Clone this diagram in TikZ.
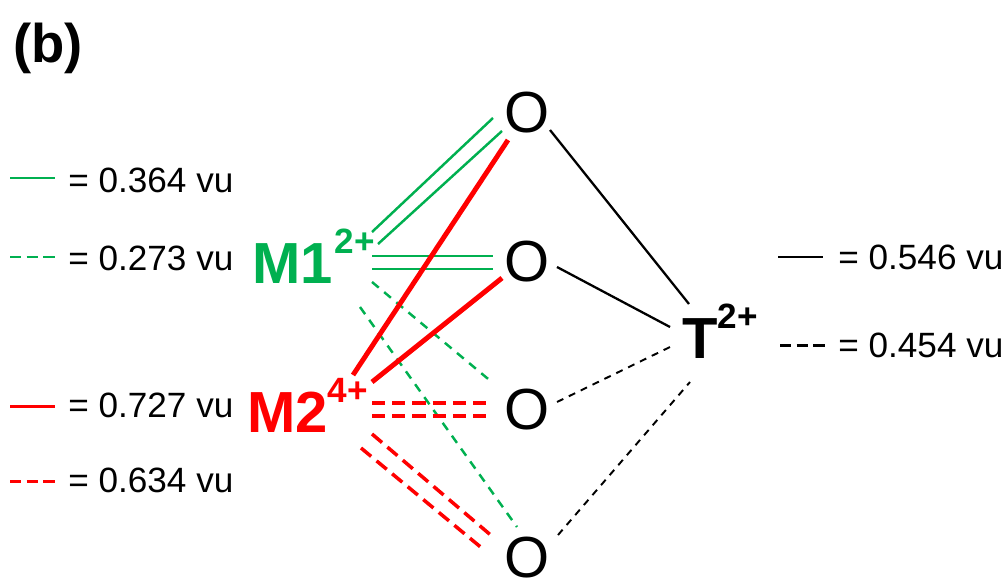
\documentclass[tikz,border=0pt]{standalone}
\usepackage{fontspec}
\setmainfont{Liberation Sans}
\usetikzlibrary{calc}
\definecolor{BVGreen}{RGB}{0,176,80}
\definecolor{BVRed}{RGB}{255,0,0}
\newcommand{\chg}[1]{\raisebox{17pt}{\fontsize{20}{20}\selectfont\bfseries #1}}

\begin{document}
\begin{tikzpicture}[x=0.02cm, y=-0.02cm,
          ion/.style={inner sep=0pt, anchor=base west,
                      font=\fontsize{33}{33}\selectfont\bfseries},
          oxy/.style={inner sep=0pt, font=\fontsize{33}{33}\selectfont},
          leg/.style={inner sep=0pt, anchor=west,
                      font=\fontsize{20}{20}\selectfont},
          gbond/.style={BVGreen, line width=1.4pt},
          gdash/.style={gbond, dash pattern=on 5pt off 4pt},
          rbond/.style={BVRed, line width=2.8pt},
          rdash/.style={BVRed, line width=2pt, dash pattern=on 7.5pt off 4pt},
          kbond/.style={black, line width=1.3pt},
          kdash/.style={black, line width=1.1pt, dash pattern=on 4pt off 3.5pt},
          legline/.style={line width=1.7pt},
          legdash/.style={line width=1.7pt, dash pattern=on 6.5pt off 3pt}
        ]
        \useasboundingbox (0,0) rectangle (1006,578);

        \node[ion, font=\fontsize{31}{31}\selectfont\bfseries] (panel) at (13,62) {(b)};

        % cations and anions
        \node[ion, BVGreen] (M1) at (252,283) {M1\kern1pt\chg{2+}};
        \node[ion, BVRed] (M2) at (247,432) {M2\chg{4+}};
        \node[ion] (T) at (682,358) {T\chg{2+}};
        \foreach \k/\y in {1/113, 2/262, 3/410, 4/558} {
          \node[oxy] (O\k) at (527,\y) {O};
        }

        % M1 bonds
        \draw[gbond] ($(M1.base west)+(120,-51)$) -- ($(O1)+(-34,5)$);
        \draw[gbond] ($(M1.base west)+(126,-39)$) -- ($(O1)+(-25,18)$);
        \draw[gbond] ($(M1.base west)+(120,-27)$) -- ($(O2)+(-34,-6)$);
        \draw[gbond] ($(M1.base west)+(120,-14)$) -- ($(O2)+(-34,7)$);
        \draw[gdash] ($(M1.base west)+(120,-1)$) -- ($(O3)+(-34,-27)$);
        \draw[gdash] ($(M1.base west)+(108,24)$) -- ($(O4)+(-10,-31)$);

        % M2 bonds
        \draw[rbond] ($(M2.base west)+(106,-57)$) -- ($(O1)+(-19,27)$);
        \draw[rbond] ($(M2.base west)+(125,-50)$) -- ($(O2)+(-25,16)$);
        \draw[rdash] ($(M2.base west)+(125,-29)$) -- ($(O3)+(-34,-7)$);
        \draw[rdash] ($(M2.base west)+(125,-16)$) -- ($(O3)+(-34,6)$);
        \draw[rdash] ($(M2.base west)+(125,2)$) -- ($(O4)+(-34,-21)$);
        \draw[rdash] ($(M2.base west)+(114,16)$) -- ($(O4)+(-44,-9)$);

        % T bonds
        \draw[kbond] ($(O1)+(23,17)$) -- ($(T.base west)+(7,-54)$);
        \draw[kbond] ($(O2)+(30,5)$) -- ($(T.base west)+(-12,-31)$);
        \draw[kdash] ($(O3)+(30,-8)$) -- ($(T.base west)+(-12,-11)$);
        \draw[kdash] ($(O4)+(31,-23)$) -- ($(T.base west)+(8,24)$);

        % legends
        \node[leg] (l364) at (68,180) {= 0.364 vu};
        \node[leg] (l273) at (68,258) {= 0.273 vu};
        \node[leg] (l727) at (68,405) {= 0.727 vu};
        \node[leg] (l634) at (68,480) {= 0.634 vu};
        \node[leg] (l546) at (838,257) {= 0.546 vu};
        \node[leg] (l454) at (838,345) {= 0.454 vu};
        \draw[BVGreen, legline] ($(l364.west)+(-58,-2)$) -- ++(45,0);
        \draw[BVGreen, legdash] ($(l273.west)+(-58,-1)$) -- ++(45,0);
        \draw[BVRed, legline] ($(l727.west)+(-58,1)$) -- ++(45,0);
        \draw[BVRed, legdash] ($(l634.west)+(-58,1)$) -- ++(45,0);
        \draw[black, legline] ($(l546.west)+(-60,0)$) -- ++(45,0);
        \draw[black, legdash] ($(l454.west)+(-58,0)$) -- ++(45,0);
\end{tikzpicture}
\end{document}
